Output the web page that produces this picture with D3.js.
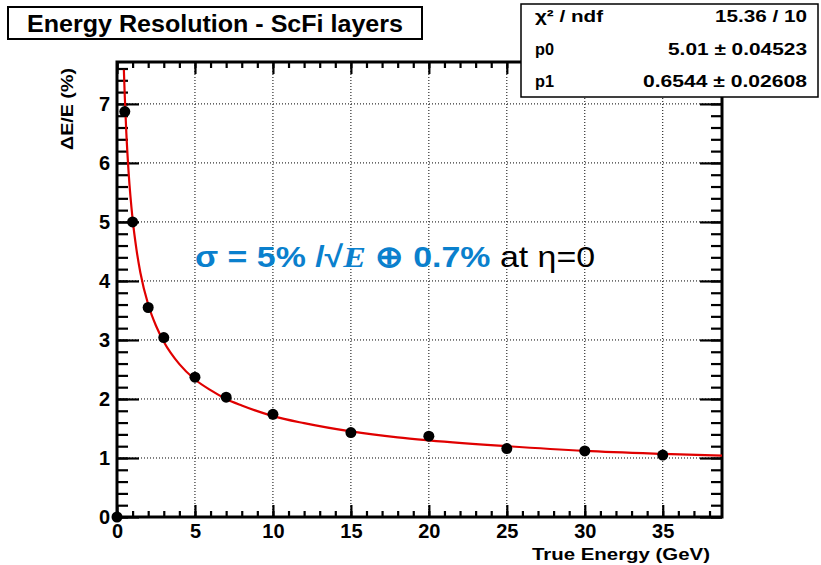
<!DOCTYPE html>
<html>
<head>
<meta charset="utf-8">
<script src="https://cdn.jsdelivr.net/npm/d3@7/dist/d3.min.js"></script>
<style>
  html, body { margin: 0; padding: 0; background: #fff; }
  svg { display: block; font-family: "Liberation Sans", Arial, sans-serif; }
</style>
</head>
<body>
<svg id="chart" width="821" height="565"></svg>
<script>
// ---- data ----
const energies = [0, 0.5, 1, 2, 3, 5, 7, 10, 15, 20, 25, 30, 35];
const resolution = [0, 6.87, 5.0, 3.55, 3.04, 2.37, 2.03, 1.74, 1.43, 1.37, 1.16, 1.12, 1.05];
// fit curve
const fitE = [0.44, 0.5, 0.6, 0.75, 1, 1.25, 1.5, 2, 2.5, 3, 4, 5, 6, 7, 8, 10, 12, 15, 18, 20, 25, 30, 35, 38.8];
const fitV = [7.58, 7.12, 6.50, 5.82, 5.05, 4.53, 4.14, 3.60, 3.24, 2.97, 2.59, 2.33, 2.15, 2.00, 1.89, 1.71, 1.59, 1.45, 1.35, 1.30, 1.20, 1.12, 1.07, 1.04];
const xTicks = [0, 5, 10, 15, 20, 25, 30, 35];
const yTicks = [0, 1, 2, 3, 4, 5, 6, 7];
const statLabels = ["χ² / ndf", "p0", "p1"];
const statValues = ["15.36 / 10", "5.01 ± 0.04523", "0.6544 ± 0.02608"];
const titleText = "Energy Resolution - ScFi layers";
const xTitle = "True Energy (GeV)";
const yTitle = "ΔE/E (%)";

// ---- layout ----
const svg = d3.select("#chart");
const L = 117, R = 722, T = 62, B = 517;
const x = d3.scaleLinear().domain([0, 38.8]).range([L, R]);
const y = d3.scaleLinear().domain([0, 7.71]).range([B, T]);

// grid
const grid = svg.append("g").attr("stroke", "#000").attr("stroke-width", 1).attr("stroke-dasharray", "1,2");
grid.selectAll("line.gx").data(xTicks.filter(d => d > 0)).join("line")
  .attr("x1", d => x(d)).attr("x2", d => x(d)).attr("y1", T).attr("y2", B);
grid.selectAll("line.gy").data(yTicks.filter(d => d > 0)).join("line")
  .attr("x1", L).attr("x2", R).attr("y1", d => y(d)).attr("y2", d => y(d));

// axes ticks
const xMinor = d3.range(0, 39, 1);
const yMinor = d3.range(0, 7.71, 0.2);
function styleAxis(g) {
  g.select(".domain").remove();
  g.selectAll(".tick line").attr("stroke", "#000").attr("stroke-width", 2.2);
  g.selectAll("text").attr("font-size", 20).attr("font-weight", "bold").attr("fill", "#000");
}
svg.append("g").attr("transform", `translate(0,${B})`)
  .call(d3.axisBottom(x).tickValues(xMinor).tickSize(-6).tickFormat("")).call(styleAxis);
svg.append("g").attr("transform", `translate(0,${B})`)
  .call(d3.axisBottom(x).tickValues(xTicks).tickSize(-12).tickSizeOuter(0).tickPadding(7).tickFormat(d3.format("d"))).call(styleAxis);
svg.append("g").attr("transform", `translate(0,${T})`)
  .call(d3.axisTop(x).tickValues(xMinor).tickSize(-6).tickFormat("")).call(styleAxis);
svg.append("g").attr("transform", `translate(0,${T})`)
  .call(d3.axisTop(x).tickValues(xTicks).tickSize(-12).tickFormat("")).call(styleAxis);
svg.append("g").attr("transform", `translate(${L},0)`)
  .call(d3.axisLeft(y).tickValues(yMinor).tickSize(-11).tickFormat("")).call(styleAxis);
svg.append("g").attr("transform", `translate(${L},0)`)
  .call(d3.axisLeft(y).tickValues(yTicks).tickSize(-22).tickPadding(7).tickFormat(d3.format("d"))).call(styleAxis);
svg.append("g").attr("transform", `translate(${R},0)`)
  .call(d3.axisRight(y).tickValues(yMinor).tickSize(-11).tickFormat("")).call(styleAxis);
svg.append("g").attr("transform", `translate(${R},0)`)
  .call(d3.axisRight(y).tickValues(yTicks).tickSize(-22).tickFormat("")).call(styleAxis);

// frame
svg.append("rect").attr("x", L).attr("y", T).attr("width", R - L).attr("height", B - T)
  .attr("fill", "none").attr("stroke", "#000").attr("stroke-width", 3);

// fit curve
const line = d3.line().x((d, i) => x(fitE[i])).y(d => y(d)).curve(d3.curveMonotoneX);
svg.append("path").attr("d", line(fitV)).attr("fill", "none").attr("stroke", "#e00000").attr("stroke-width", 2.2);

// points
svg.append("g").selectAll("circle").data(resolution).join("circle")
  .attr("cx", (d, i) => x(energies[i])).attr("cy", d => y(d)).attr("r", 5.5).attr("fill", "#000");

// axis titles
svg.append("text").attr("x", 710).attr("y", 560).attr("text-anchor", "end")
  .attr("font-size", 17).attr("font-weight", "bold").attr("textLength", 178).attr("lengthAdjust", "spacingAndGlyphs").text(xTitle);
svg.append("text").attr("transform", "translate(73,150) rotate(-90)").attr("text-anchor", "start")
  .attr("font-size", 17).attr("font-weight", "bold").attr("textLength", 82).attr("lengthAdjust", "spacingAndGlyphs").text(yTitle);

// title box
svg.append("rect").attr("x", 8).attr("y", 7).attr("width", 414).attr("height", 32)
  .attr("fill", "#fff").attr("stroke", "#000").attr("stroke-width", 2);
svg.append("text").attr("x", 27).attr("y", 32).attr("font-size", 23).attr("font-weight", "bold")
  .attr("textLength", 376).attr("lengthAdjust", "spacingAndGlyphs").text(titleText);

// stats box
svg.append("rect").attr("x", 521).attr("y", 4).attr("width", 297).attr("height", 93)
  .attr("fill", "#fff").attr("stroke", "#000").attr("stroke-width", 1.5);
const rowsY = [22, 55, 87];
const labelW = [68, 19, 19];
const valueW = [92, 139, 164];
svg.append("g").selectAll("text").data(statLabels).join("text")
  .attr("x", 535).attr("y", (d, i) => rowsY[i]).attr("font-size", 17).attr("font-weight", "bold")
  .attr("textLength", (d, i) => labelW[i]).attr("lengthAdjust", "spacingAndGlyphs").text(d => d);
svg.append("g").selectAll("text").data(statValues).join("text")
  .attr("x", 807).attr("y", (d, i) => rowsY[i]).attr("text-anchor", "end").attr("font-size", 17).attr("font-weight", "bold")
  .attr("textLength", (d, i) => valueW[i]).attr("lengthAdjust", "spacingAndGlyphs").text(d => d);

// annotation
const ann = svg.append("text").attr("transform", "translate(195,267) scale(1.13,1)").attr("font-size", 30);
ann.append("tspan").attr("fill", "#0a80cd").attr("font-weight", "bold").text("σ = 5% /√");
ann.append("tspan").attr("fill", "#0a80cd").attr("font-weight", "bold").attr("font-style", "italic")
  .attr("font-family", "Liberation Serif, serif").text("E");
ann.append("tspan").attr("fill", "#0a80cd").attr("font-weight", "bold").text(" ⊕ 0.7%");
ann.append("tspan").attr("fill", "#000").text(" at η=0");
</script>
</body>
</html>
